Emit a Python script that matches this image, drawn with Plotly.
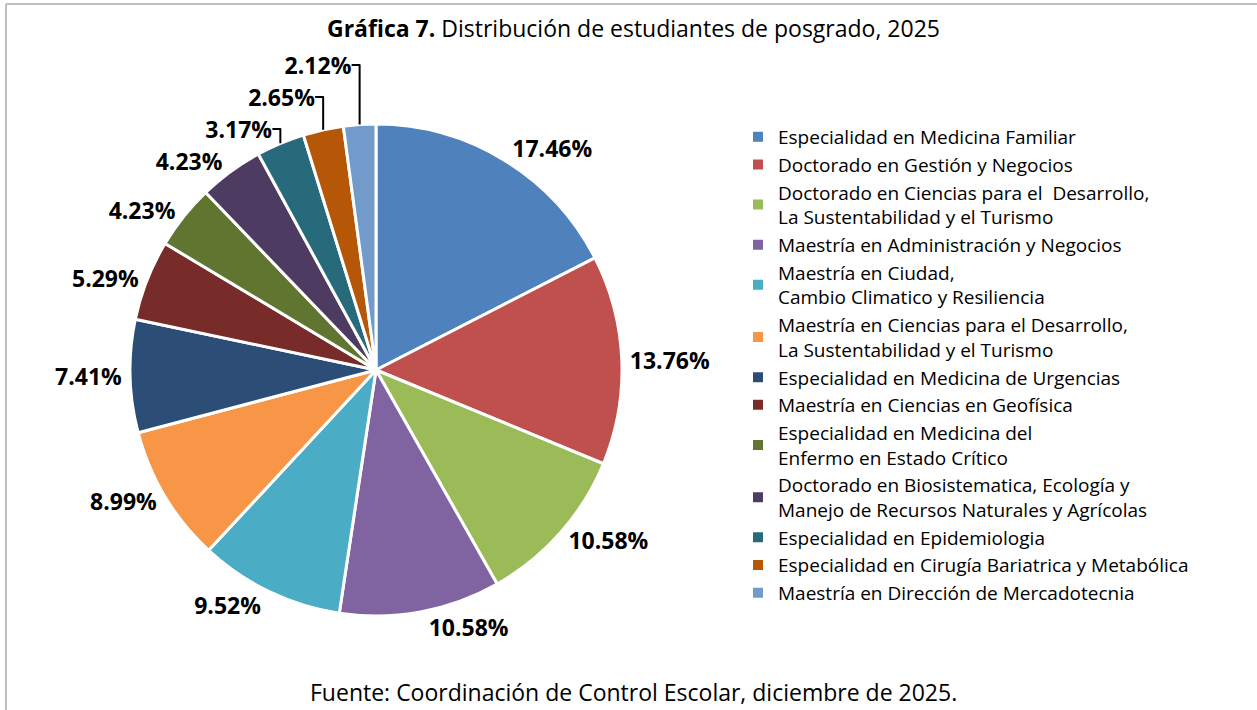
import plotly.graph_objects as go

programas = [
    "Especialidad en Medicina Familiar",
    "Doctorado en Gestión y Negocios",
    "Doctorado en Ciencias para el  Desarrollo,<br>La Sustentabilidad y el Turismo",
    "Maestría en Administración y Negocios",
    "Maestría en Ciudad,<br>Cambio Climatico y Resiliencia",
    "Maestría en Ciencias para el Desarrollo,<br>La Sustentabilidad y el Turismo",
    "Especialidad en Medicina de Urgencias",
    "Maestría en Ciencias en Geofísica",
    "Especialidad en Medicina del<br>Enfermo en Estado Crítico",
    "Doctorado en Biosistematica, Ecología y<br>Manejo de Recursos Naturales y Agrícolas",
    "Especialidad en Epidemiologia",
    "Especialidad en Cirugía Bariatrica y Metabólica",
    "Maestría en Dirección de Mercadotecnia",
]
porcentajes = [17.46, 13.76, 10.58, 10.58, 9.52, 8.99, 7.41, 5.29, 4.23, 4.23, 3.17, 2.65, 2.12]
colores = ["#4F81BD", "#C0504D", "#9BBB59", "#8064A2", "#4BACC6", "#F79646",
           "#2C4D75", "#772C2A", "#5F7530", "#4D3B62", "#276A7C", "#B65708", "#729ACA"]

W, H = 1257, 710
cx, cy, r = 376, 370, 246
FONT = "Open Sans"

fig = go.Figure(go.Pie(
    labels=programas,
    values=porcentajes,
    sort=False,
    direction="clockwise",
    rotation=0,
    marker=dict(colors=colores, line=dict(color="white", width=3)),
    textposition="outside",
    texttemplate="%{value:.2f}%",
    textfont=dict(family=FONT, size=23, color="black", weight="bold"),
    hoverinfo="label+percent",
    domain=dict(x=[(cx - r) / W, (cx + r) / W], y=[1 - (cy + r) / H, 1 - (cy - r) / H]),
))

fig.update_layout(
    width=W, height=H,
    margin=dict(l=0, r=0, t=0, b=0),
    paper_bgcolor="white",
    font=dict(family=FONT, color="black"),
    showlegend=True,
    legend=dict(x=738 / W, y=1 - 365 / H, xanchor="left", yanchor="middle",
                font=dict(family=FONT, size=19, color="black"),
                itemsizing="constant", tracegroupgap=0),
    annotations=[
        dict(text="<b>Gráfica 7.</b> Distribución de estudiantes de posgrado, 2025",
             x=633 / W, y=1 - 28 / H, xref="paper", yref="paper", showarrow=False,
             xanchor="center", yanchor="middle", font=dict(family=FONT, size=23)),
        dict(text="Fuente: Coordinación de Control Escolar, diciembre de 2025.",
             x=633 / W, y=1 - 692 / H, xref="paper", yref="paper", showarrow=False,
             xanchor="center", yanchor="middle", font=dict(family=FONT, size=23)),
    ],
    shapes=[
        dict(type="line", xref="paper", yref="paper", x0=6 / W, x1=1.0, y0=1 - 4 / H, y1=1 - 4 / H,
             line=dict(color="#BFBFBF", width=2)),
        dict(type="line", xref="paper", yref="paper", x0=6 / W, x1=6 / W, y0=0, y1=1 - 4 / H,
             line=dict(color="#BFBFBF", width=2)),
    ],
)

fig.write_html("out.html", config={"displayModeBar": False},
               post_script="document.body.style.margin='0';document.body.style.overflow='hidden';")
